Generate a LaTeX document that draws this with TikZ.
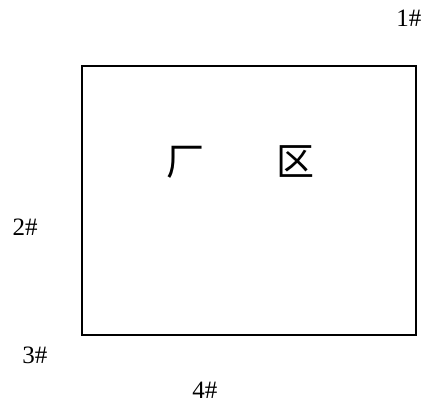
\documentclass[tikz,border=0pt]{standalone}
\usepackage{fontspec}
\setmainfont{Liberation Serif}
\newfontfamily\cjk{Noto Sans CJK SC}
\usetikzlibrary{positioning}

\begin{document}
\begin{tikzpicture}[x=0.5pt, y=-0.5pt,
    pointlabel/.style={font=\fontsize{12.5}{14}\selectfont, inner sep=0pt},
    zonechar/.style={font=\cjk\fontsize{19}{21}\selectfont, inner sep=0pt}]
    % Bounding box (425 x 407 px)
    \useasboundingbox (0,0) rectangle (425,407);

    % Plant area
    \node[draw, line width=1pt, minimum width=167pt, minimum height=134.5pt, inner sep=0pt] (site) at (249,200.5) {};

    % Area name
    \node[zonechar] (chang) at (186,162) {厂};
    \node[zonechar] (qu) at (296,162) {区};

    % Monitoring points
    \node[pointlabel] (p1) at (409,18) {1\#};
    \node[pointlabel] (p2) at (25,227) {2\#};
    \node[pointlabel] (p3) at (35,355) {3\#};
    \node[pointlabel] (p4) at (205,390) {4\#};
\end{tikzpicture}
\end{document}
